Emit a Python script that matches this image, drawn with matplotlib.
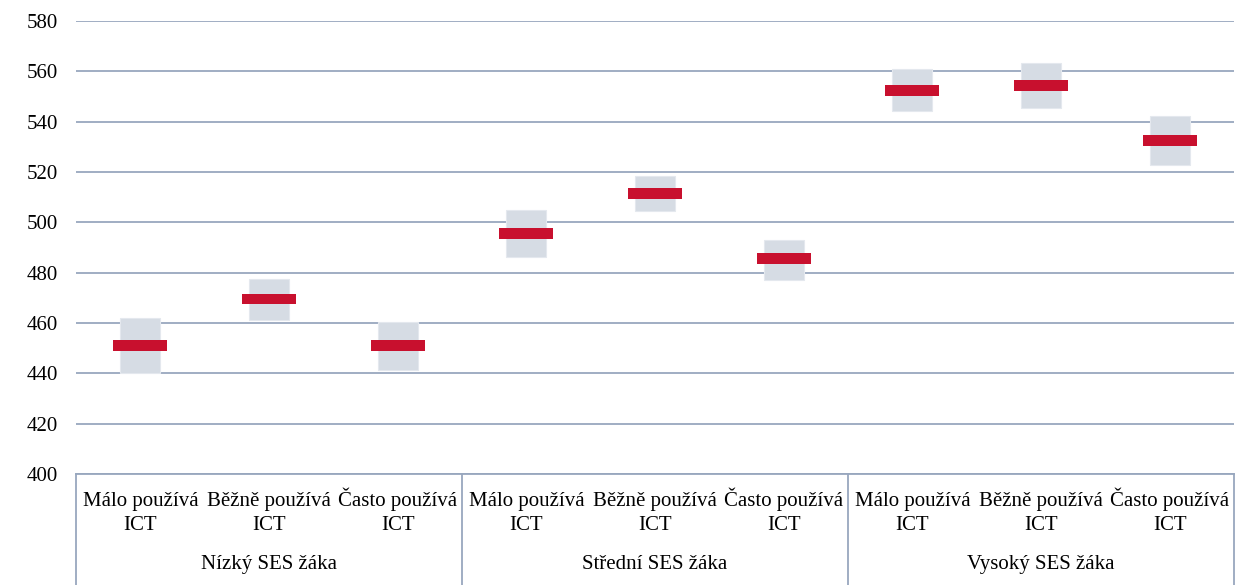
import matplotlib
matplotlib.use("Agg")
import matplotlib.pyplot as plt
from matplotlib.lines import Line2D

# ---- data ----
groups = ["Nízký SES žáka", "Střední SES žáka", "Vysoký SES žáka"]
categories = ["Málo používá\nICT", "Běžně používá\nICT", "Často používá\nICT"] * 3
means = [451.0, 469.5, 451.0, 495.5, 511.5, 485.5, 552.5, 554.5, 532.5]
ci_low = [440.0, 461.3, 441.5, 486.3, 504.6, 477.2, 544.1, 545.4, 522.6]
ci_high = [462.0, 477.6, 460.4, 504.8, 518.4, 493.0, 560.9, 563.3, 542.4]
yticks = list(range(400, 581, 20))

plt.rcParams['font.family'] = ['Liberation Serif', 'DejaVu Serif']

W, H = 1237, 585
fig = plt.figure(figsize=(W / 100, H / 100), dpi=100)
left, right, top, bottom = 76, 1234, 21, 474
ax = fig.add_axes([left / W, 1 - bottom / H, (right - left) / W, (bottom - top) / H])

grid_c = '#98A7BE'
box_c = '#D6DCE4'
red_c = '#C8102E'

n = len(means)
xs = list(range(n))
ax.set_xlim(-0.5, n - 0.5)
ax.set_ylim(400, 580)
ax.set_yticks(yticks)
ax.set_yticklabels([str(t) for t in yticks], fontsize=15)
ax.tick_params(axis='y', length=0, pad=13)
ax.set_xticks([])
for s in ['left', 'right', 'top']:
    ax.spines[s].set_visible(False)
ax.spines['bottom'].set_color(grid_c)
ax.spines['bottom'].set_linewidth(1.3)
ax.yaxis.grid(True, color=grid_c, linewidth=1.3)
ax.set_axisbelow(True)

heights = [h - l for h, l in zip(ci_high, ci_low)]
ax.bar(xs, heights, bottom=ci_low, width=0.31, color=box_c, edgecolor='#E4E8EE', linewidth=0.8, zorder=2)
bar_h = 4.25
ax.bar(xs, [bar_h] * n, bottom=[m - bar_h / 2 for m in means], width=0.42, color=red_c, zorder=3)

# multi-level category axis
ax_h = bottom - top
def yfrac(px_below):
    return -px_below / ax_h

trans = ax.get_xaxis_transform()
line_offsets = [32, 56]
for i, lab in enumerate(categories):
    for part, off in zip(lab.split('\n'), line_offsets):
        ax.text(i, yfrac(off), part, transform=trans, ha='center', va='baseline', fontsize=15)
for g, name in enumerate(groups):
    ax.text(g * 3 + 1, yfrac(95), name, transform=trans, ha='center', va='baseline', fontsize=15)
for b in [-0.5, 2.5, 5.5, 8.5]:
    ax.add_line(Line2D([b, b], [0, yfrac(115)], transform=trans, color=grid_c,
                       linewidth=1.3, clip_on=False))

fig.savefig('out.png', dpi=100)
